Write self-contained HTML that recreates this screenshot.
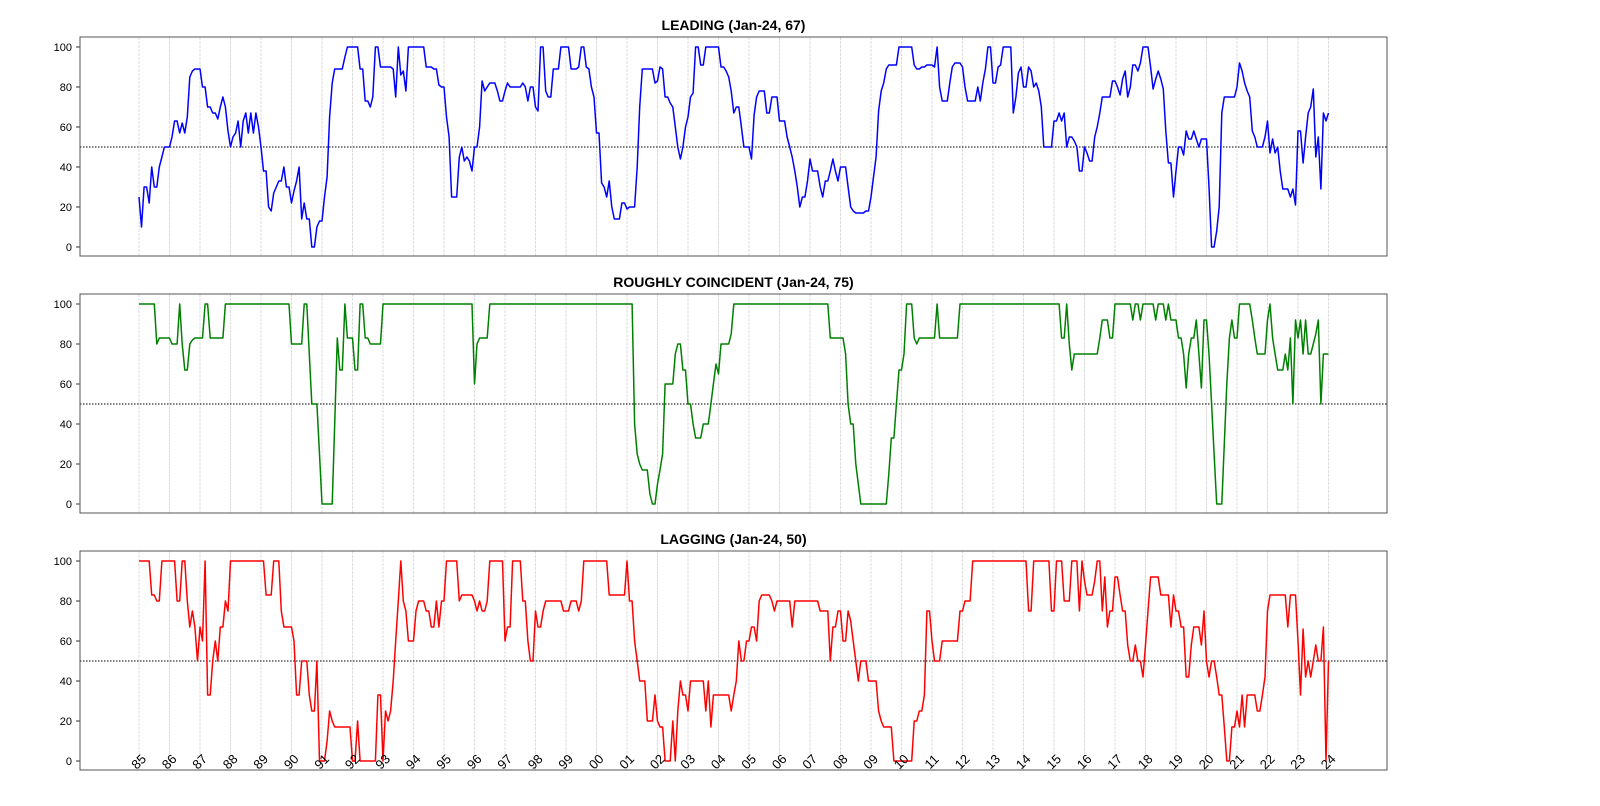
<!DOCTYPE html>
<html><head><meta charset="utf-8"><style>
body{margin:0;background:#fff;}
svg{display:block;font-family:"Liberation Sans","DejaVu Sans",sans-serif;}
</style></head><body>
<svg id="chart" width="1600" height="806" viewBox="0 0 1600 806" xmlns="http://www.w3.org/2000/svg"></svg>
<script>
const yearLabels=["85","86","87","88","89","90","91","92","93","94","95","96","97","98","99","00","01","02","03","04","05","06","07","08","09","10","11","12","13","14","15","16","17","18","19","20","21","22","23","24"];
const yTicks=[0,20,40,60,80,100];
const titles=["LEADING (Jan-24, 67)","ROUGHLY COINCIDENT (Jan-24, 75)","LAGGING (Jan-24, 50)"];
const leading=[
25,10,30,30,22,40,30,30,40,45,50,50,
50,55,63,63,57,62,57,65,85,88,89,89,
89,80,80,70,70,67,67,64,70,75,70,58,
50,55,57,63,50,63,67,57,67,57,67,60,
50,38,38,20,18,27,30,33,33,40,30,30,
22,28,33,40,14,22,14,14,0,0,10,13,
13,25,35,65,82,89,89,89,89,95,100,100,
100,100,100,89,89,73,73,70,75,100,100,90,
90,90,90,90,89,75,100,86,88,78,100,100,
100,100,100,100,100,90,90,90,89,89,81,80,
80,65,55,25,25,25,45,50,43,45,43,38,
50,50,60,83,78,80,82,82,82,78,73,73,
78,82,80,80,80,80,80,82,80,73,80,80,
70,68,100,100,78,75,75,89,89,89,100,100,
100,100,89,89,89,90,100,100,90,89,80,75,
57,57,32,30,25,33,20,14,14,14,22,22,
19,20,20,20,40,70,89,89,89,89,89,82,
83,90,89,75,75,72,70,60,50,44,50,60,
65,75,77,100,100,91,91,100,100,100,100,100,
100,90,90,88,85,78,67,70,70,60,50,50,
50,44,66,75,78,78,78,67,67,75,75,75,
63,63,63,55,50,45,38,30,20,25,25,33,
44,38,38,38,30,25,33,33,38,44,38,33,
40,40,40,30,20,18,17,17,17,17,18,18,
25,35,45,68,78,82,89,91,91,91,91,100,
100,100,100,100,100,91,89,89,90,90,91,91,
91,90,100,80,73,73,73,82,90,92,92,92,
90,80,73,73,73,73,80,73,82,89,100,100,
82,82,90,91,100,100,100,100,67,75,87,90,
80,80,90,88,80,82,78,70,50,50,50,50,
63,63,67,63,67,50,55,55,53,50,38,38,
50,47,43,43,55,60,67,75,75,75,75,83,
83,80,76,84,88,75,80,91,91,88,92,100,
100,100,90,79,84,88,84,79,58,42,42,25,
38,50,50,46,58,54,54,58,54,50,54,54,
54,30,0,0,8,20,67,75,75,75,75,75,
80,92,88,82,78,75,58,55,50,50,50,55,
63,47,54,47,50,38,29,29,29,25,29,21,
58,58,42,55,67,70,79,45,55,29,67,63,
67];
const coincident=[
100,100,100,100,100,100,100,80,83,83,83,83,
83,80,80,80,100,80,67,67,80,82,83,83,
83,83,100,100,83,83,83,83,83,83,100,100,
100,100,100,100,100,100,100,100,100,100,100,100,
100,100,100,100,100,100,100,100,100,100,100,100,
80,80,80,80,80,100,100,75,50,50,50,25,
0,0,0,0,0,40,83,67,67,100,83,83,
83,67,67,100,100,83,83,80,80,80,80,80,
100,100,100,100,100,100,100,100,100,100,100,100,
100,100,100,100,100,100,100,100,100,100,100,100,
100,100,100,100,100,100,100,100,100,100,100,100,
60,80,83,83,83,83,100,100,100,100,100,100,
100,100,100,100,100,100,100,100,100,100,100,100,
100,100,100,100,100,100,100,100,100,100,100,100,
100,100,100,100,100,100,100,100,100,100,100,100,
100,100,100,100,100,100,100,100,100,100,100,100,
100,100,100,40,25,20,17,17,17,5,0,0,
10,17,25,60,60,60,60,75,80,80,67,67,
50,50,40,33,33,33,40,40,40,50,60,70,
65,80,80,80,80,85,100,100,100,100,100,100,
100,100,100,100,100,100,100,100,100,100,100,100,
100,100,100,100,100,100,100,100,100,100,100,100,
100,100,100,100,100,100,100,100,83,83,83,83,
83,83,75,50,40,40,20,10,0,0,0,0,
0,0,0,0,0,0,0,15,33,33,50,67,
67,75,100,100,100,83,80,83,83,83,83,83,
83,83,100,83,83,83,83,83,83,83,83,100,
100,100,100,100,100,100,100,100,100,100,100,100,
100,100,100,100,100,100,100,100,100,100,100,100,
100,100,100,100,100,100,100,100,100,100,100,100,
100,100,100,83,83,100,80,67,75,75,75,75,
75,75,75,75,75,75,83,92,92,92,83,83,
100,100,100,100,100,100,100,92,100,100,92,100,
100,100,100,100,92,100,100,100,92,100,92,92,
92,83,83,75,58,75,83,83,92,75,58,92,
92,75,50,25,0,0,0,30,60,83,92,83,
83,100,100,100,100,100,92,83,75,75,75,75,
92,100,83,75,67,67,67,75,67,83,50,92,
83,92,75,92,75,75,80,85,92,50,75,75,
75];
const lagging=[
100,100,100,100,100,83,83,80,80,100,100,100,
100,100,100,80,80,100,100,80,67,75,67,50,
67,60,100,33,33,50,60,50,67,67,80,75,
100,100,100,100,100,100,100,100,100,100,100,100,
100,100,83,83,83,100,100,100,75,67,67,67,
67,60,33,33,50,50,50,33,25,25,50,0,
0,0,10,25,20,17,17,17,17,17,17,17,
0,0,20,0,0,0,0,0,0,0,33,33,
0,25,20,25,40,60,80,100,80,75,60,60,
60,75,80,80,80,75,75,67,67,80,67,80,
80,100,100,100,100,100,80,83,83,83,83,83,
80,75,80,75,75,80,100,100,100,100,100,100,
60,67,67,100,100,100,100,80,80,60,50,50,
75,67,67,75,80,80,80,80,80,80,80,75,
75,75,80,80,80,75,80,100,100,100,100,100,
100,100,100,100,100,83,83,83,83,83,83,83,
100,80,80,60,50,40,40,40,20,20,20,33,
20,17,17,0,0,0,20,0,25,40,33,33,
25,40,40,40,40,40,40,25,40,17,33,33,
33,33,33,33,33,25,33,40,60,50,50,60,
60,67,67,60,80,83,83,83,83,80,75,80,
80,80,80,80,80,67,80,80,80,80,80,80,
80,80,80,80,75,75,75,75,50,67,67,75,
75,60,60,75,70,60,50,40,50,50,50,40,
40,40,40,25,20,17,17,17,17,0,0,0,
0,0,0,0,0,20,20,25,25,33,75,75,
60,50,50,50,60,60,60,60,60,60,60,75,
75,80,80,80,100,100,100,100,100,100,100,100,
100,100,100,100,100,100,100,100,100,100,100,100,
100,100,75,75,100,100,100,100,100,100,100,75,
75,100,100,100,80,80,80,100,100,100,75,100,
90,83,83,83,90,100,100,75,92,67,75,75,
92,92,83,75,75,58,50,50,58,50,50,42,
58,75,92,92,92,92,83,83,83,83,67,83,
75,75,67,67,42,42,58,67,67,67,58,75,
50,42,50,50,42,33,33,17,0,0,17,17,
25,17,33,17,33,33,33,33,25,25,33,42,
75,83,83,83,83,83,83,83,67,83,83,83,
60,33,66,42,50,42,50,58,50,50,67,0,
50];
const seriesList=[leading,coincident,lagging];
const colors=["#0000ff","#008000","#ff0000"];
const NS="http://www.w3.org/2000/svg";
const svg=document.getElementById("chart");
const L=80,R=1387,X0=139,X1=1328.5;
const panels=[{top:37,bot:256,y0:247},{top:294,bot:513,y0:504},{top:551,bot:770,y0:761}];
function xScale(i){return X0+(X1-X0)*i/((yearLabels.length-1)*12);}
function yScale(p,v){return p.y0-v*2;}
function mk(tag,attrs,parent){const e=document.createElementNS(NS,tag);for(const k in attrs)e.setAttribute(k,attrs[k]);(parent||svg).appendChild(e);return e;}
const names=["leading","coincident","lagging"];
panels.forEach((p,pi)=>{
  const g=mk("g",{});
  
  
  yearLabels.forEach((lab,yi)=>{
    const x=xScale(yi*12);
    const gl=mk("line",{x1:x,x2:x,y1:p.top,y2:p.bot,stroke:"#d4d4d4","stroke-width":0.8,"stroke-dasharray":"3,1"},g);
    
    
  });
  const ref=mk("line",{x1:L,x2:R,y1:yScale(p,50),y2:yScale(p,50),stroke:"#000","stroke-width":1,"stroke-dasharray":"1.5,1.5"},g);
  
  
  yTicks.forEach(t=>{
    const y=yScale(p,t);
    mk("line",{x1:L-4,x2:L,y1:y,y2:y,stroke:"#000","stroke-width":0.8},g);
    const tx=mk("text",{x:L-8,y:y+4,"text-anchor":"end","font-size":11,fill:"#000"},g);
    tx.textContent=t;
    
    
  });
  const data=seriesList[pi];
  const pts=data.map((v,i)=>xScale(i).toFixed(1)+","+yScale(p,v).toFixed(1)).join(" ");
  const pl=mk("polyline",{points:pts,fill:"none",stroke:colors[pi],"stroke-width":1.5,"stroke-linejoin":"round"},g);
  
  
  const fr=mk("rect",{x:L,y:p.top,width:R-L,height:p.bot-p.top,fill:"none",stroke:"#555","stroke-width":1},g);
  
  
  const ti=mk("text",{x:(L+R)/2,y:p.top-7,"text-anchor":"middle","font-size":14,"font-weight":"bold",fill:"#000"},g);
  ti.textContent=titles[pi];
  
  
});
yearLabels.forEach((lab,yi)=>{
  const x=xScale(yi*12);
  const t=mk("text",{x:x,y:766,"text-anchor":"middle","font-size":13,fill:"#000",transform:"rotate(-45 "+x+" 762)"});
  t.textContent=lab;
  
  
});
</script>
</body></html>
